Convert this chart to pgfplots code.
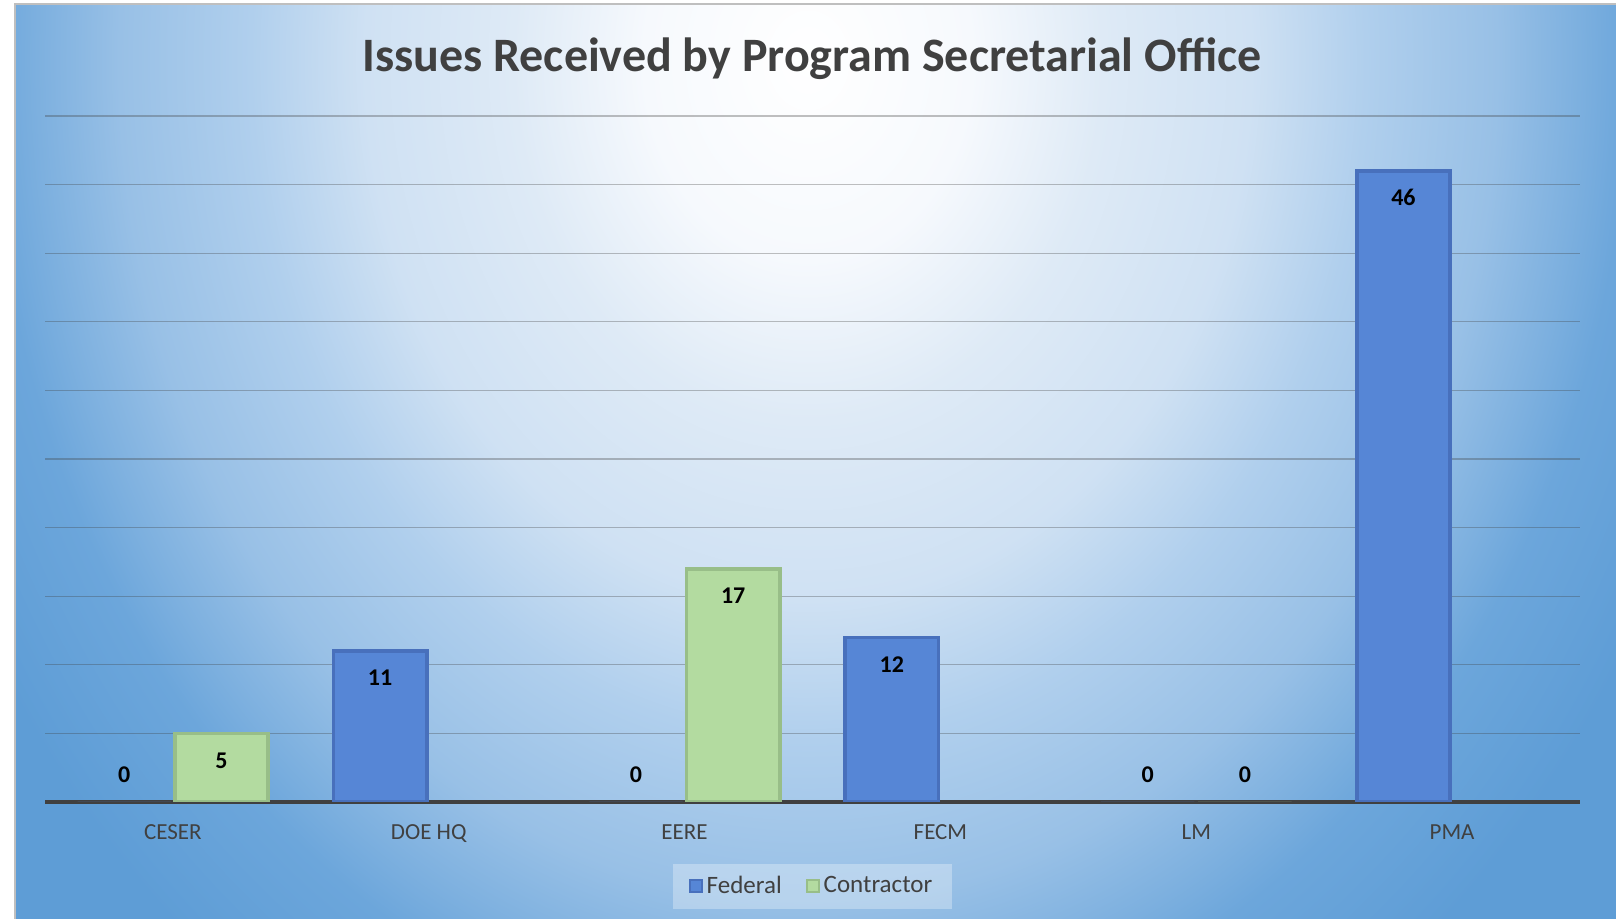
\documentclass[border=0pt]{standalone}
\usepackage{fontspec}
\setmainfont{Carlito}
\usepackage{pgfplots}
\usepackage{pgfplotstable}
\pgfplotsset{compat=1.18}

\definecolor{txt}{HTML}{404040}
\definecolor{fedM}{HTML}{5686D6}
\definecolor{fedE}{HTML}{4870BC}
\definecolor{conM}{HTML}{B3DBA0}
\definecolor{conE}{HTML}{98BE88}

% the bounding box of the shaded path spans the inner 50bp of the shading
\pgfdeclareradialshading{bgshade}{\pgfpoint{0bp}{0bp}}{%
  color(0bp)=(white); color(5bp)=(rgb,255:red,246;green,249;blue,253);
  color(9bp)=(rgb,255:red,222;green,234;blue,246);
  color(13.5bp)=(rgb,255:red,207;green,225;blue,243);
  color(17bp)=(rgb,255:red,176;green,207;blue,237);
  color(21bp)=(rgb,255:red,152;green,192;blue,230);
  color(23.5bp)=(rgb,255:red,125;green,176;blue,223);
  color(25bp)=(rgb,255:red,108;green,166;blue,219);
  color(29bp)=(rgb,255:red,94;green,157;blue,214);
  color(50bp)=(rgb,255:red,91;green,155;blue,213)}

% 0 = CESER, 1 = DOE HQ, 2 = EERE, 3 = FECM, 4 = LM, 5 = PMA
\pgfplotstableread{
x y
1 11
3 12
5 46
}\fed
\pgfplotstableread{
x y
0 0
2 0
4 0
}\fedzero
\pgfplotstableread{
x y
0 5
2 17
}\con
\pgfplotstableread{
x y
4 0
}\conzero

\begin{document}
\begin{tikzpicture}
\useasboundingbox (-22.5pt,-58.5pt) rectangle (785.5pt,401pt);
\fill[white] (-22.5pt,-58.5pt) rectangle (785.5pt,401pt);
\begin{scope}
  \clip (-15pt,-58.5pt) rectangle (785.5pt,399pt);
  \shade[shading=bgshade] (-28.5pt,-129pt) rectangle (791.5pt,871pt);
\end{scope}
\draw[black!25, line width=0.8pt] (-15pt,-58.5pt) -- (-15pt,399pt) -- (785.5pt,399pt);

\begin{axis}[
    at={(0pt,0pt)}, anchor=south west,
    scale only axis, width=767.5pt, height=343pt,
    xmin=-0.5, xmax=5.5, ymin=0, ymax=50,
    axis line style={draw=none},
    major tick length=0pt,
    ytick={5,10,...,50}, yticklabels={},
    ymajorgrids,
    grid style={draw=txt, draw opacity=0.33, line width=0.6pt},
    extra y ticks={0}, extra y tick labels={},
    extra y tick style={grid style={draw=txt, draw opacity=1, line width=1.7pt}},
    xtick={0,...,5},
    xticklabels={CESER,DOE HQ,EERE,FECM,LM,PMA},
    xticklabel style={font=\fontsize{11.5}{13}\selectfont, text=txt, yshift=-8pt},
    ybar=0pt, bar width=0.365,
    nodes near coords,
    every node near coord/.append style={font=\fontsize{12}{14}\selectfont\bfseries,
      text=black, anchor=center, yshift=-13.5pt},
    /pgf/number format/assume math mode=true,
    legend columns=-1,
    legend style={at={(0.5,-0.123)}, anchor=center, draw=none,
      fill=white, fill opacity=0.3, text opacity=1, text=txt,
      font=\fontsize{12.5}{14}\selectfont, inner xsep=8pt, inner ysep=4pt,
      /tikz/every even column/.append style={column sep=10pt}},
    legend image code/.code={\draw[#1, fill opacity=1, line width=1pt]
      (0.5pt,-3pt) rectangle (6.5pt,3pt);},
    fedbar/.style={fill=fedM, draw=fedE, line width=1.8pt, bar shift=-0.19},
    conbar/.style={fill=conM, draw=conE, line width=1.8pt, bar shift=0.19},
    zerolab/.style={draw=none, every node near coord/.append style={yshift=27pt}},
]
\addplot[fedbar] table{\fed};
\addplot[conbar] table{\con};
\addplot[fedbar, zerolab, forget plot] table{\fedzero};
\addplot[conbar, zerolab, forget plot] table{\conzero};
\legend{Federal, Contractor}
\end{axis}

\node[font=\fontsize{24}{29}\selectfont\bfseries, text=txt, anchor=base]
  at (383.5pt,365pt) {Issues Received by Program Secretarial Office};
\end{tikzpicture}
\end{document}
